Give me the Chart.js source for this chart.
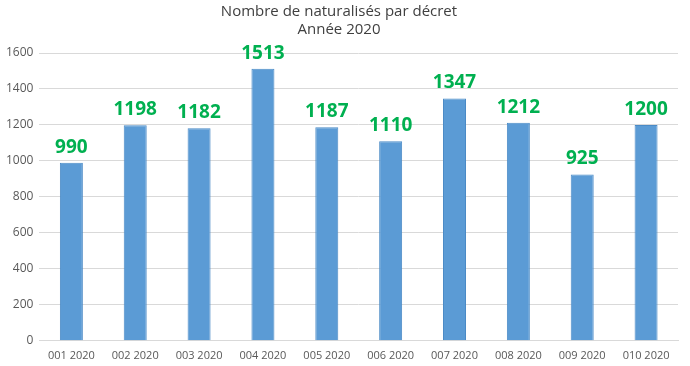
<!DOCTYPE html>
<html>
<head>
<meta charset="utf-8">
<script src="https://cdn.jsdelivr.net/npm/chart.js@4/dist/chart.umd.min.js"></script>
<style>
  html, body { margin: 0; padding: 0; background: #fff; }
  #wrap { width: 690px; height: 366px; }
</style>
</head>
<body>
<div id="wrap"><canvas id="myChart"></canvas></div>
<script>
var labels = ['001 2020', '002 2020', '003 2020', '004 2020', '005 2020', '006 2020', '007 2020', '008 2020', '009 2020', '010 2020'];
var values = [990, 1198, 1182, 1513, 1187, 1110, 1347, 1212, 925, 1200];
var titleLines = ['Nombre de naturalisés par décret', 'Année 2020'];

// green value on top of each bar
var valueLabels = {
  id: 'valueLabels',
  afterDatasetsDraw: function (chart) {
    var ctx = chart.ctx;
    var meta = chart.getDatasetMeta(0);
    ctx.save();
    ctx.font = 'bold 19px "Open Sans", sans-serif';
    ctx.fillStyle = '#00B050';
    ctx.textAlign = 'center';
    ctx.textBaseline = 'bottom';
    meta.data.forEach(function (bar, i) {
      ctx.fillText(values[i], bar.x, bar.y - 6);
    });
    ctx.restore();
  }
};

var ctx = document.getElementById('myChart');
var myChart = new Chart(ctx, {
  type: 'bar',
  data: {
    labels: labels,
    datasets: [{
      data: values,
      backgroundColor: '#5B9BD5',
      borderColor: '#4A8AC6',
      borderWidth: 1,
      barPercentage: 1,
      categoryPercentage: 0.36
    }]
  },
  options: {
    responsive: true,
    maintainAspectRatio: false,
    animation: false,
    layout: { padding: { left: 0, right: 12, top: 0, bottom: 4 } },
    plugins: {
      legend: { display: false },
      tooltip: { enabled: false },
      title: {
        display: true,
        text: titleLines,
        color: '#404040',
        font: { family: '"Open Sans", sans-serif', size: 15, weight: 'normal', lineHeight: 1.2 },
        padding: { top: 3, bottom: 14 }
      }
    },
    scales: {
      x: {
        grid: { display: false },
        border: { display: true, color: '#d9d9d9' },
        ticks: {
          color: '#595959',
          font: { family: '"Liberation Sans Narrow", "Open Sans", sans-serif', size: 11 },
          maxRotation: 0,
          padding: 0
        }
      },
      y: {
        min: 0,
        max: 1600,
        grid: { color: '#d9d9d9', drawTicks: false },
        border: { display: false },
        ticks: {
          stepSize: 200,
          color: '#595959',
          font: { family: '"Open Sans", sans-serif', size: 12 },
          padding: 6,
          callback: function (v) { return String(v); }
        }
      }
    }
  },
  plugins: [valueLabels]
});
</script>
</body>
</html>
